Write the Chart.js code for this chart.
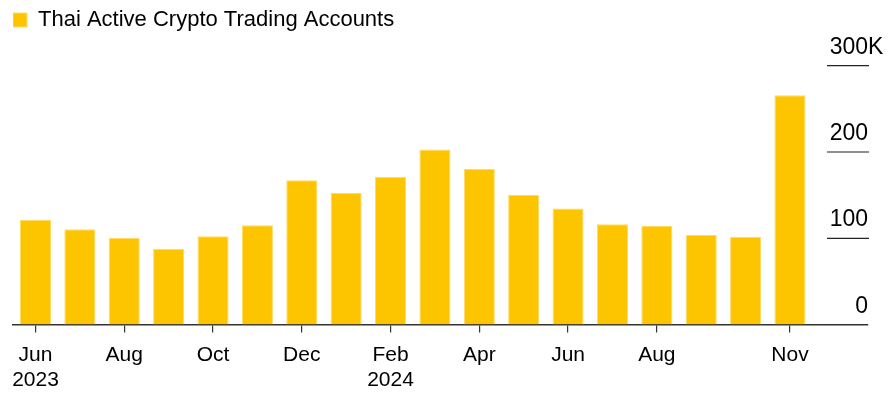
<!DOCTYPE html>
<html>
<head>
<meta charset="utf-8">
<script src="https://cdn.jsdelivr.net/npm/chart.js@4.4.1/dist/chart.umd.min.js"></script>
<style>
  html, body { margin: 0; padding: 0; background: #fff; }
  #wrap { width: 896px; height: 410px; }
</style>
</head>
<body>
<div id="wrap"><canvas id="c"></canvas></div>
<script>
// monthly active accounts, thousands
const months = ['Jun 2023', 'Jul 2023', 'Aug 2023', 'Sep 2023', 'Oct 2023', 'Nov 2023', 'Dec 2023',
  'Jan 2024', 'Feb 2024', 'Mar 2024', 'Apr 2024', 'May 2024', 'Jun 2024', 'Jul 2024', 'Aug 2024',
  'Sep 2024', 'Oct 2024', 'Nov 2024'];
const accounts = [121.4, 110.6, 100.6, 87.9, 102.5, 115.2, 167.3, 152.6, 171, 203,
  180.3, 150.3, 134.5, 116.4, 114.5, 103.7, 101.7, 265.9];

const tickAt = [0, 2, 4, 6, 8, 10, 12, 14, 17];
const tickText = [['Jun', '2023'], ['Aug'], ['Oct'], ['Dec'], ['Feb', '2024'], ['Apr'], ['Jun'], ['Aug'], ['Nov']];

const yTicks = [0, 100, 200, 300];
const yTickText = ['0', '100', '200', '300'];
const yUnit = 'K';

const FONT = '"Liberation Sans", Arial, Helvetica, sans-serif';

// short right-hand gridlines + labels sitting above them
const rightAxis = {
  id: 'rightAxis',
  beforeInit(chart) {
    const fit = chart.legend.fit;
    chart.legend.fit = function () {
      fit.bind(chart.legend)();
      this.height = 56.7;
    };
  },
  afterDraw(chart) {
    const ctx = chart.ctx;
    const y = chart.scales.y;
    const right = chart.chartArea.right;
    ctx.save();
    ctx.font = '23px ' + FONT;
    ctx.fillStyle = '#000';
    ctx.strokeStyle = '#222';
    ctx.lineWidth = 1.2;
    yTicks.forEach((v, i) => {
      const py = y.getPixelForValue(v);
      if (v > 0) {
        ctx.beginPath();
        ctx.moveTo(right - 41, py);
        ctx.lineTo(right + 1, py);
        ctx.stroke();
      }
      ctx.textAlign = 'right';
      ctx.textBaseline = 'alphabetic';
      ctx.fillText(yTickText[i], right, py - 12);
      if (i === yTicks.length - 1) {
        ctx.textAlign = 'left';
        ctx.fillText(yUnit, right, py - 12);
      }
    });
    ctx.restore();
  }
};

new Chart(document.getElementById('c'), {
  type: 'bar',
  data: {
    datasets: [{
      label: 'Thai Active Crypto Trading Accounts',
      data: accounts.map((v, i) => ({ x: i, y: v })),
      backgroundColor: '#FDC500',
      borderColor: '#FFDA66',
      borderWidth: 1,
      categoryPercentage: 1,
      barPercentage: 0.7
    }]
  },
  options: {
    responsive: true,
    maintainAspectRatio: false,
    animation: false,
    layout: { padding: { left: 13, right: 28, top: 9, bottom: 7 } },
    plugins: {
      legend: {
        position: 'top',
        align: 'start',
        labels: {
          boxWidth: 14,
          boxHeight: 14,
          padding: 0,
          color: '#000',
          font: { family: FONT, size: 22 }
        }
      },
      tooltip: { enabled: false }
    },
    scales: {
      x: {
        type: 'linear',
        offset: false,
        min: -0.507,
        max: 18.758,
        afterBuildTicks: s => { s.ticks = tickAt.map(v => ({ value: v })); },
        grid: { offset: false, drawOnChartArea: false, drawTicks: true, tickLength: 8, color: '#333', lineWidth: 1.2 },
        border: { color: '#333', width: 1.5 },
        ticks: {
          autoSkip: false,
          maxRotation: 0,
          padding: 10,
          color: '#000',
          font: { family: FONT, size: 21 },
          callback: v => tickText[tickAt.indexOf(v)]
        }
      },
      y: {
        display: false,
        min: 0,
        max: 300
      }
    }
  },
  plugins: [rightAxis]
});
</script>
</body>
</html>
